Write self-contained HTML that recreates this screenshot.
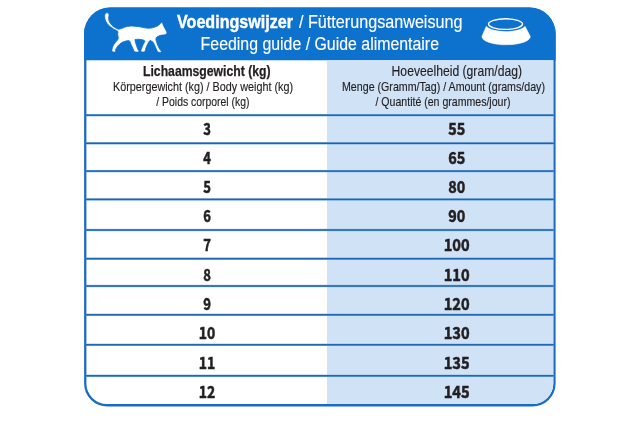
<!DOCTYPE html>
<html lang="nl"><head><meta charset="utf-8"><title>Voedingswijzer</title>
<style>html,body{margin:0;padding:0;background:#fff}body{width:640px;height:424px;overflow:hidden}svg{display:block}text{font-family:"Liberation Sans",Arial,Helvetica,sans-serif}text.n{font-family:"Noto Sans CJK SC","Liberation Sans",sans-serif}</style></head><body>
<svg width="640" height="424" viewBox="0 0 640 424">
<rect width="640" height="424" fill="#fff"/>
<path d="M110.1,7.6 H529.6 A26,26 0 0 1 555.6,33.6 V383.4 A23,23 0 0 1 532.6,406.4 H107.1 A23,23 0 0 1 84.1,383.4 V33.6 A26,26 0 0 1 110.1,7.6 Z" fill="#1a6cc2"/>
<path d="M110.1,7.6 H529.6 A26,26 0 0 1 555.6,33.6 V60.8 H84.1 V33.6 A26,26 0 0 1 110.1,7.6 Z" fill="#0d71ce"/>
<path d="M86.4,60.3 H553.3 V383.4 A20.7,20.7 0 0 1 532.6,404.1 H107.1 A20.7,20.7 0 0 1 86.4,383.4 V60.3 Z" fill="#fff"/>
<path d="M327,60.3 H553.3 V383.4 A20.7,20.7 0 0 1 532.6,404.1 H327 V60.3 Z" fill="#cfe2f6"/>
<rect x="85.9" y="114.00" width="467.9" height="2.4" fill="#8dbbe9"/>
<rect x="85.9" y="114.45" width="467.9" height="1.5" fill="#1d64b0"/>
<rect x="85.9" y="142.10" width="467.9" height="2.4" fill="#8dbbe9"/>
<rect x="85.9" y="142.55" width="467.9" height="1.5" fill="#1d64b0"/>
<rect x="85.9" y="169.90" width="467.9" height="2.4" fill="#8dbbe9"/>
<rect x="85.9" y="170.35" width="467.9" height="1.5" fill="#1d64b0"/>
<rect x="85.9" y="198.20" width="467.9" height="2.4" fill="#8dbbe9"/>
<rect x="85.9" y="198.65" width="467.9" height="1.5" fill="#1d64b0"/>
<rect x="85.9" y="228.80" width="467.9" height="2.4" fill="#8dbbe9"/>
<rect x="85.9" y="229.25" width="467.9" height="1.5" fill="#1d64b0"/>
<rect x="85.9" y="257.50" width="467.9" height="2.4" fill="#8dbbe9"/>
<rect x="85.9" y="257.95" width="467.9" height="1.5" fill="#1d64b0"/>
<rect x="85.9" y="284.80" width="467.9" height="2.4" fill="#8dbbe9"/>
<rect x="85.9" y="285.25" width="467.9" height="1.5" fill="#1d64b0"/>
<rect x="85.9" y="313.60" width="467.9" height="2.4" fill="#8dbbe9"/>
<rect x="85.9" y="314.05" width="467.9" height="1.5" fill="#1d64b0"/>
<rect x="85.9" y="343.60" width="467.9" height="2.4" fill="#8dbbe9"/>
<rect x="85.9" y="344.05" width="467.9" height="1.5" fill="#1d64b0"/>
<rect x="85.9" y="374.60" width="467.9" height="2.4" fill="#8dbbe9"/>
<rect x="85.9" y="375.05" width="467.9" height="1.5" fill="#1d64b0"/>
<path d="M106.78,12.87 C107.31,12.87 108.22,12.99 108.59,13.40 C108.96,13.81 109.01,14.46 109.01,15.31 C109.01,16.16 108.52,17.44 108.59,18.50 C108.66,19.56 108.94,20.63 109.44,21.69 C109.93,22.75 110.68,23.90 111.56,24.88 C112.45,25.85 113.60,26.83 114.75,27.53 C115.90,28.24 117.32,28.95 118.47,29.13 C119.62,29.31 121.02,28.70 121.66,28.60 C122.40,28.28 124.05,27.41 125.38,27.00 C126.71,26.60 128.21,26.29 129.63,26.15 C131.05,26.01 132.29,26.06 133.88,26.15 C135.48,26.24 137.42,26.40 139.19,26.68 C140.97,26.97 142.91,27.59 144.51,27.85 C146.10,28.12 147.43,28.28 148.76,28.28 C150.09,28.28 151.33,28.10 152.48,27.85 C153.63,27.61 154.69,27.20 155.67,26.79 C156.64,26.38 157.56,25.94 158.32,25.41 C159.08,24.88 159.62,24.12 160.24,23.60 C160.86,23.09 161.68,22.58 162.04,22.33 C162.19,22.62 162.52,23.21 162.79,23.82 C163.05,24.42 163.28,25.20 163.64,25.94 C163.99,26.68 164.49,27.48 164.91,28.28 C165.34,29.08 165.83,29.98 166.19,30.72 C166.54,31.47 166.87,32.34 167.04,32.74 C166.91,33.00 166.79,33.68 166.40,34.02 C166.01,34.35 165.43,34.58 164.70,34.76 C163.97,34.94 162.84,34.96 162.04,35.08 C161.25,35.20 160.68,35.26 159.92,35.50 C159.16,35.75 158.13,36.12 157.47,36.57 C156.82,37.01 156.20,37.45 155.99,38.16 C155.77,38.87 155.99,39.84 156.20,40.82 C156.41,41.79 156.82,42.86 157.26,44.01 C157.70,45.16 158.32,46.70 158.85,47.73 C159.39,48.75 160.01,49.55 160.45,50.17 C160.89,50.79 161.48,51.11 161.51,51.45 C161.55,51.78 161.10,52.07 160.66,52.19 C160.22,52.31 159.39,52.31 158.85,52.19 C158.32,52.07 157.92,52.01 157.47,51.45 C157.03,50.88 156.68,49.85 156.20,48.79 C155.72,47.73 155.17,46.22 154.60,45.07 C154.04,43.92 153.56,42.66 152.80,41.88 C152.04,41.10 150.59,40.69 150.03,40.39 C149.78,40.69 149.24,41.10 148.76,41.88 C148.28,42.66 147.66,44.01 147.16,45.07 C146.67,46.13 146.08,47.37 145.78,48.26 C145.48,49.14 145.57,49.82 145.36,50.38 C145.15,50.95 144.92,51.37 144.51,51.66 C144.10,51.94 143.45,52.08 142.91,52.08 C142.38,52.08 141.66,51.94 141.32,51.66 C140.98,51.37 140.81,51.04 140.89,50.38 C140.98,49.73 141.43,48.79 141.85,47.73 C142.28,46.66 142.91,45.07 143.45,44.01 C143.98,42.94 144.72,41.88 145.04,41.35 C144.83,41.14 144.60,40.59 143.98,40.29 C143.36,39.99 142.29,39.72 141.32,39.54 C140.35,39.37 139.19,39.22 138.13,39.22 C137.07,39.22 135.58,39.48 134.94,39.54 C134.99,39.80 135.01,40.16 135.16,40.82 C135.30,41.47 135.51,42.50 135.79,43.48 C136.08,44.45 136.50,45.65 136.86,46.66 C137.21,47.67 137.57,48.82 137.92,49.53 C138.27,50.24 138.86,50.54 138.98,50.91 C139.11,51.29 139.07,51.57 138.66,51.76 C138.26,51.96 137.25,52.14 136.54,52.08 C135.83,52.03 135.00,51.99 134.41,51.45 C133.83,50.90 133.51,49.76 133.03,48.79 C132.55,47.81 131.97,46.57 131.54,45.60 C131.12,44.63 130.76,43.65 130.48,42.94 C130.20,42.24 130.16,41.74 129.84,41.35 C129.52,40.96 128.82,40.75 128.57,40.61 C128.04,40.69 126.88,40.78 125.91,41.03 C124.94,41.28 123.79,41.56 122.72,42.09 C121.66,42.62 120.51,43.37 119.53,44.22 C118.56,45.07 117.53,46.26 116.88,47.19 C116.22,48.13 115.82,49.14 115.60,49.85 C115.39,50.56 115.83,51.07 115.60,51.45 C115.37,51.82 114.72,52.05 114.22,52.08 C113.73,52.12 113.02,51.94 112.63,51.66 C112.24,51.37 111.92,51.04 111.88,50.38 C111.85,49.73 112.08,48.70 112.41,47.73 C112.75,46.75 113.25,45.60 113.90,44.54 C114.56,43.48 115.64,42.29 116.35,41.35 C117.05,40.41 117.85,39.70 118.15,38.91 C118.45,38.11 118.22,37.28 118.15,36.57 C118.08,35.86 117.76,35.36 117.73,34.65 C117.69,33.95 117.99,32.97 117.94,32.32 C117.89,31.66 117.52,31.04 117.41,30.72 C116.88,30.51 115.73,30.19 114.75,29.66 C113.78,29.13 112.63,28.33 111.56,27.53 C110.50,26.74 109.30,25.85 108.38,24.88 C107.46,23.90 106.62,22.75 106.04,21.69 C105.45,20.63 105.08,19.56 104.87,18.50 C104.66,17.44 104.67,16.16 104.76,15.31 C104.85,14.46 105.06,13.81 105.40,13.40 C105.74,12.99 106.25,12.87 106.78,12.87Z" fill="#fff" stroke="#0d71ce" stroke-width="0.8" stroke-linejoin="round"/>
<path d="M486.2,26.3 A20.3,7.35 0 0 0 525.1,26.3 L530.4,36.6 A24.3,8.2 0 0 1 481.8,36.6 Z" fill="#fff" stroke="#fff" stroke-width="0.4" stroke-linejoin="round"/>
<ellipse cx="505.5" cy="24.1" rx="17.0" ry="5.3" fill="none" stroke="#fff" stroke-width="1.4"/>
<text x="177" y="28.0" font-size="18.9" font-weight="bold" fill="#fff" stroke="#fff" stroke-width="0.45" textLength="116" lengthAdjust="spacingAndGlyphs">Voedingswijzer</text>
<text x="299" y="28.0" font-size="18.9" font-weight="normal" fill="#fff" stroke="#fff" stroke-width="0.15" textLength="163.5" lengthAdjust="spacingAndGlyphs">/ Fütterungsanweisung</text>
<text x="200.6" y="50.4" font-size="18.9" font-weight="normal" fill="#fff" stroke="#fff" stroke-width="0.15" textLength="238.4" lengthAdjust="spacingAndGlyphs">Feeding guide / Guide alimentaire</text>
<text x="143" y="76" font-size="14.1" font-weight="bold" fill="#231f20" stroke="#231f20" stroke-width="0.25" textLength="127.5" lengthAdjust="spacingAndGlyphs">Lichaamsgewicht (kg)</text>
<text x="113" y="90.7" font-size="12.1" font-weight="normal" fill="#231f20" stroke="#231f20" stroke-width="0.15" textLength="180" lengthAdjust="spacingAndGlyphs">Körpergewicht (kg) / Body weight (kg)</text>
<text x="156.3" y="106" font-size="12.1" font-weight="normal" fill="#231f20" stroke="#231f20" stroke-width="0.15" textLength="93.2" lengthAdjust="spacingAndGlyphs">/ Poids corporel (kg)</text>
<text x="391.6" y="76" font-size="14.1" font-weight="normal" fill="#231f20" stroke="#231f20" stroke-width="0.15" textLength="130.4" lengthAdjust="spacingAndGlyphs">Hoeveelheid (gram/dag)</text>
<text x="342" y="90.7" font-size="12.1" font-weight="normal" fill="#231f20" stroke="#231f20" stroke-width="0.15" textLength="203" lengthAdjust="spacingAndGlyphs">Menge (Gramm/Tag) / Amount (grams/day)</text>
<text x="375.5" y="106" font-size="12.1" font-weight="normal" fill="#231f20" stroke="#231f20" stroke-width="0.15" textLength="135" lengthAdjust="spacingAndGlyphs">/ Quantité (en grammes/jour)</text>
<text class="n" x="203.2" y="135.2" font-size="16.8" font-weight="bold" fill="#231f20" stroke="#231f20" stroke-width="0.55" textLength="7.7" lengthAdjust="spacingAndGlyphs">3</text>
<text class="n" x="448.2" y="135.2" font-size="16.8" font-weight="bold" fill="#231f20" stroke="#231f20" stroke-width="0.55" textLength="17" lengthAdjust="spacingAndGlyphs">55</text>
<text class="n" x="203.2" y="164.0" font-size="16.8" font-weight="bold" fill="#231f20" stroke="#231f20" stroke-width="0.55" textLength="7.7" lengthAdjust="spacingAndGlyphs">4</text>
<text class="n" x="448.2" y="164.0" font-size="16.8" font-weight="bold" fill="#231f20" stroke="#231f20" stroke-width="0.55" textLength="17" lengthAdjust="spacingAndGlyphs">65</text>
<text class="n" x="203.2" y="192.9" font-size="16.8" font-weight="bold" fill="#231f20" stroke="#231f20" stroke-width="0.55" textLength="7.7" lengthAdjust="spacingAndGlyphs">5</text>
<text class="n" x="448.2" y="192.9" font-size="16.8" font-weight="bold" fill="#231f20" stroke="#231f20" stroke-width="0.55" textLength="17" lengthAdjust="spacingAndGlyphs">80</text>
<text class="n" x="203.2" y="222.0" font-size="16.8" font-weight="bold" fill="#231f20" stroke="#231f20" stroke-width="0.55" textLength="7.7" lengthAdjust="spacingAndGlyphs">6</text>
<text class="n" x="448.2" y="222.0" font-size="16.8" font-weight="bold" fill="#231f20" stroke="#231f20" stroke-width="0.55" textLength="17" lengthAdjust="spacingAndGlyphs">90</text>
<text class="n" x="203.2" y="251.2" font-size="16.8" font-weight="bold" fill="#231f20" stroke="#231f20" stroke-width="0.55" textLength="7.7" lengthAdjust="spacingAndGlyphs">7</text>
<text class="n" x="443.7" y="251.2" font-size="16.8" font-weight="bold" fill="#231f20" stroke="#231f20" stroke-width="0.55" textLength="26" lengthAdjust="spacingAndGlyphs">100</text>
<text class="n" x="203.2" y="280.8" font-size="16.8" font-weight="bold" fill="#231f20" stroke="#231f20" stroke-width="0.55" textLength="7.7" lengthAdjust="spacingAndGlyphs">8</text>
<text class="n" x="443.7" y="280.8" font-size="16.8" font-weight="bold" fill="#231f20" stroke="#231f20" stroke-width="0.55" textLength="26" lengthAdjust="spacingAndGlyphs">110</text>
<text class="n" x="203.2" y="310.4" font-size="16.8" font-weight="bold" fill="#231f20" stroke="#231f20" stroke-width="0.55" textLength="7.7" lengthAdjust="spacingAndGlyphs">9</text>
<text class="n" x="443.7" y="310.4" font-size="16.8" font-weight="bold" fill="#231f20" stroke="#231f20" stroke-width="0.55" textLength="26" lengthAdjust="spacingAndGlyphs">120</text>
<text class="n" x="198.8" y="339.3" font-size="16.8" font-weight="bold" fill="#231f20" stroke="#231f20" stroke-width="0.55" textLength="16.5" lengthAdjust="spacingAndGlyphs">10</text>
<text class="n" x="443.7" y="339.3" font-size="16.8" font-weight="bold" fill="#231f20" stroke="#231f20" stroke-width="0.55" textLength="26" lengthAdjust="spacingAndGlyphs">130</text>
<text class="n" x="198.8" y="369.0" font-size="16.8" font-weight="bold" fill="#231f20" stroke="#231f20" stroke-width="0.55" textLength="16.5" lengthAdjust="spacingAndGlyphs">11</text>
<text class="n" x="443.7" y="369.0" font-size="16.8" font-weight="bold" fill="#231f20" stroke="#231f20" stroke-width="0.55" textLength="26" lengthAdjust="spacingAndGlyphs">135</text>
<text class="n" x="198.8" y="398.0" font-size="16.8" font-weight="bold" fill="#231f20" stroke="#231f20" stroke-width="0.55" textLength="16.5" lengthAdjust="spacingAndGlyphs">12</text>
<text class="n" x="443.7" y="398.0" font-size="16.8" font-weight="bold" fill="#231f20" stroke="#231f20" stroke-width="0.55" textLength="26" lengthAdjust="spacingAndGlyphs">145</text>
</svg></body></html>
